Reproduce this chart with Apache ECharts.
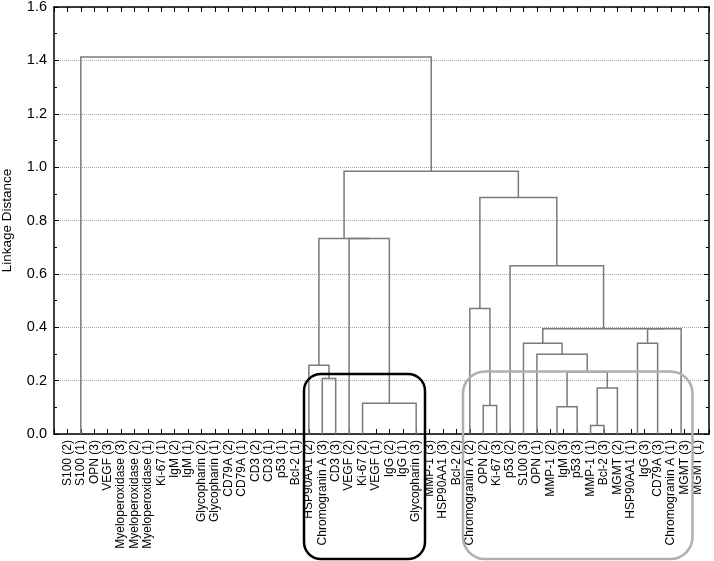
<!DOCTYPE html>
<html>
<head>
<meta charset="utf-8">
<script src="https://cdn.jsdelivr.net/npm/echarts@6/dist/echarts.min.js"></script>
<style>
  html, body { margin: 0; padding: 0; background: #fff; }
  #main { width: 714px; height: 561px; }
</style>
</head>
<body>
<div id="main"></div>
<script>
// leaf order along the x axis (position 1..48)
var names = [
    'S100 (2)', 'S100 (1)', 'OPN (3)', 'VEGF (3)', 'Myeloperoxidase (3)', 'Myeloperoxidase (2)',
    'Myeloperoxidase (1)', 'Ki-67 (1)', 'IgM (2)', 'IgM (1)', 'Glycopharin (2)', 'Glycopharin (1)',
    'CD79A (2)', 'CD79A (1)', 'CD3 (2)', 'CD3 (1)', 'p53 (1)', 'Bcl-2 (1)',
    'HSP90AA1 (2)', 'Chromogranin A (3)', 'CD3 (3)', 'VEGF (2)', 'Ki-67 (2)', 'VEGF (1)',
    'IgG (2)', 'IgG (1)', 'Glycopharin (3)', 'MMP-1 (3)', 'HSP90AA1 (3)', 'Bcl-2 (2)',
    'Chromogranin A (2)', 'OPN (2)', 'Ki-67 (3)', 'p53 (2)', 'S100 (3)', 'OPN (1)',
    'MMP-1 (2)', 'IgM (3)', 'p53 (3)', 'MMP-1 (1)', 'Bcl-2 (3)', 'MGMT (2)',
    'HSP90AA1 (1)', 'IgG (3)', 'CD79A (3)', 'Chromogranin A (1)', 'MGMT (3)', 'MGMT (1)'
];

// merges: a child is a leaf position (number) or an earlier node ('n' + 1-based index)
var mergeLeft   = [40, 37.5, 32, 23, 'n1', 20, 'n2', 19, 36, 35, 43.5, 'n11', 'n10', 31, 34, 22, 'n8', 'n14', 'n17', 2];
var mergeRight  = [41, 39, 33, 27, 42, 21, 'n5', 'n6', 'n7', 'n9', 45, 46.75, 'n12', 'n3', 'n13', 'n4', 'n16', 'n15', 'n18', 'n19'];
var mergeHeight = [0.032, 0.102, 0.107, 0.115, 0.172, 0.208, 0.232, 0.258, 0.299, 0.340, 0.340, 0.394, 0.394, 0.470, 0.630, 0.733, 0.733, 0.886, 0.985, 1.413];

// node position = midpoint of its children
var nodeX = [];
function childX(c) { return typeof c === 'string' ? nodeX[parseInt(c.slice(1)) - 1] : c; }
function childH(c) { return typeof c === 'string' ? mergeHeight[parseInt(c.slice(1)) - 1] : 0; }
var links = [];
for (var i = 0; i < mergeHeight.length; i++) {
    var xl = childX(mergeLeft[i]), xr = childX(mergeRight[i]);
    nodeX.push((xl + xr) / 2);
    links.push([xl, xr, mergeHeight[i], childH(mergeLeft[i]), childH(mergeRight[i])]);
}

var myChart = echarts.init(document.getElementById('main'));
var font = 'Liberation Sans, Arial, sans-serif';
var axisLine = { show: true, onZero: false, lineStyle: { color: '#000', width: 1.5 } };
var tick = { show: true, inside: true, length: 5, lineStyle: { color: '#000' } };

var option = {
    animation: false,
    backgroundColor: '#fff',
    grid: { left: 54, right: 5, top: 7, bottom: 127, containLabel: false, outerBoundsMode: 'none' },
    xAxis: [
        {
            type: 'value', min: 0, max: 48.83, interval: 1, position: 'bottom',
            axisLine: axisLine, axisTick: tick, splitLine: { show: false },
            axisLabel: {
                rotate: 90, margin: 6, color: '#000', fontSize: 12, fontFamily: font,
                formatter: function (v) {
                    return (Math.abs(v - Math.round(v)) < 1e-6 && v >= 1 && v <= names.length) ? names[Math.round(v) - 1] : '';
                }
            }
        },
        {
            type: 'value', min: 0, max: 48.83, interval: 1, position: 'top',
            axisLine: axisLine, axisTick: tick, splitLine: { show: false },
            axisLabel: { show: false }
        }
    ],
    yAxis: [
        {
            type: 'value', min: 0, max: 1.6, interval: 0.2, position: 'left',
            name: 'Linkage Distance', nameLocation: 'middle', nameGap: 40, nameRotate: 90,
            nameTextStyle: { color: '#000', fontSize: 13.5, fontFamily: font },
            axisLine: axisLine, axisTick: tick,
            minorTick: { show: true, splitNumber: 2, length: 3, lineStyle: { color: '#000' } },
            axisLabel: {
                color: '#000', fontSize: 14.5, fontFamily: font, margin: 7,
                formatter: function (v) { return v.toFixed(1); }
            },
            splitLine: { show: true, lineStyle: { color: '#a8a8a8', type: [1, 1], width: 1 } }
        },
        {
            type: 'value', min: 0, max: 1.6, interval: 0.2, position: 'right',
            axisLine: axisLine, axisTick: tick,
            minorTick: { show: true, splitNumber: 2, length: 3, lineStyle: { color: '#000' } },
            axisLabel: { show: false }, splitLine: { show: false }
        }
    ],
    series: [{
        type: 'custom',
        data: links,
        encode: { x: [0, 1], y: [2, 3, 4] },
        renderItem: function (params, api) {
            var xl = api.value(0), xr = api.value(1), h = api.value(2);
            return {
                type: 'polyline',
                shape: { points: [
                    api.coord([xl, api.value(3)]), api.coord([xl, h]),
                    api.coord([xr, h]), api.coord([xr, api.value(4)])
                ] },
                style: { stroke: '#7a7a7a', lineWidth: 1.5, fill: null }
            };
        }
    }],
    graphic: [
        {
            type: 'rect', z: 100,
            shape: { x: 304, y: 374, width: 121, height: 185, r: 17 },
            style: { fill: null, stroke: '#000', lineWidth: 2.5 }
        },
        {
            type: 'rect', z: 100,
            shape: { x: 463, y: 371.5, width: 229.5, height: 187.5, r: 22 },
            style: { fill: null, stroke: '#b0b0b0', lineWidth: 2.5 }
        }
    ]
};
myChart.setOption(option);
</script>
</body>
</html>
